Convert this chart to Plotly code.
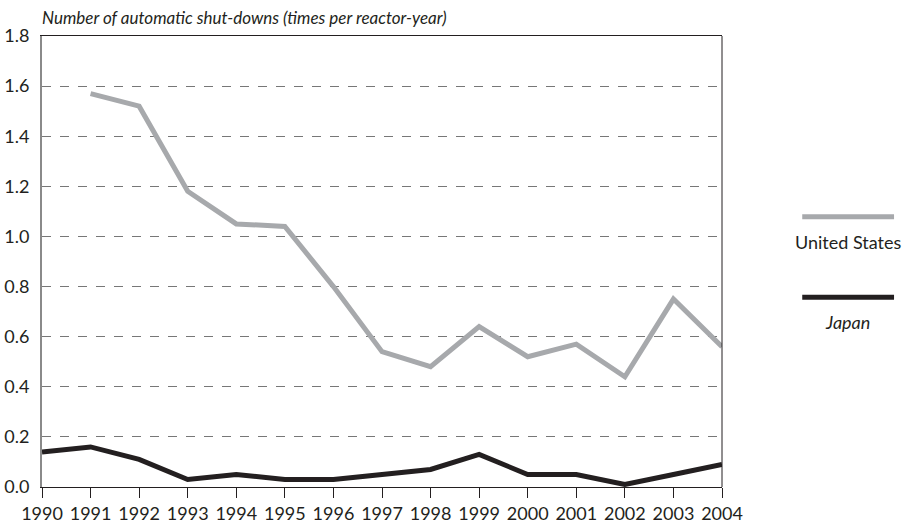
import plotly.graph_objects as go

years = list(range(1990, 2005))
us_years = list(range(1991, 2005))
us_rate = [1.57, 1.52, 1.18, 1.05, 1.04, 0.80, 0.54, 0.48, 0.64, 0.52, 0.57, 0.44, 0.75, 0.56]
japan_rate = [0.14, 0.16, 0.11, 0.03, 0.05, 0.03, 0.03, 0.05, 0.07, 0.13, 0.05, 0.05, 0.01, 0.05, 0.09]
y_ticks = [0.0, 0.2, 0.4, 0.6, 0.8, 1.0, 1.2, 1.4, 1.6, 1.8]

US_COLOR = "#a7a9ac"
JP_COLOR = "#231f20"
FONT = "Lato, Open Sans, sans-serif"

fig = go.Figure()
fig.add_trace(go.Scatter(x=us_years, y=us_rate, mode="lines", name="United States",
                         line=dict(color=US_COLOR, width=5), showlegend=False))
fig.add_trace(go.Scatter(x=years, y=japan_rate, mode="lines", name="Japan",
                         line=dict(color=JP_COLOR, width=5), showlegend=False))

fig.update_layout(
    width=918, height=528,
    margin=dict(l=42, r=196, t=36, b=41),
    paper_bgcolor="white", plot_bgcolor="white",
    font=dict(family=FONT, color="#231f20", size=17),
    xaxis=dict(range=[1990, 2004], tickvals=years, ticktext=[str(y) for y in years],
               showgrid=False, zeroline=False, showline=True, linecolor="#231f20",
               linewidth=1, mirror=True, ticks="outside", ticklen=10, tickcolor="#231f20",
               tickfont=dict(size=18), ticklabelstandoff=0, automargin=False,
               fixedrange=True),
    yaxis=dict(range=[0, 1.8], tickvals=y_ticks, ticktext=[f"{v:.1f}" for v in y_ticks],
               showgrid=True, gridcolor="#777777", griddash="dash", gridwidth=1,
               zeroline=False, showline=True, linecolor="#8a8a8a", linewidth=2,
               ticks="", tickfont=dict(size=18), ticklabelstandoff=7, automargin=False,
               fixedrange=True),
)

# right border of the plot frame
fig.add_shape(type="line", xref="paper", yref="paper", x0=1, x1=1, y0=0, y1=1,
              line=dict(color="#231f20", width=1))

# axis title above the plot
fig.add_annotation(text="<i>Number of automatic shut-downs (times per reactor-year)</i>",
                   xref="paper", yref="paper", x=0, y=1, xanchor="left", yanchor="bottom",
                   xshift=-2, yshift=6, showarrow=False, font=dict(size=17))

# legend: line sample above each label
legend_items = [("United States", US_COLOR, 0.599, ""), ("Japan", JP_COLOR, 0.421, "i")]
for label, color, ypos, style in legend_items:
    fig.add_shape(type="line", xref="paper", yref="paper", x0=1.118, x1=1.253,
                  y0=ypos, y1=ypos, line=dict(color=color, width=5))
    text = f"<i>{label}</i>" if style == "i" else label
    fig.add_annotation(text=text, xref="paper", yref="paper", x=1.185, y=ypos,
                       xanchor="center", yanchor="top", yshift=-12, showarrow=False,
                       font=dict(size=18))

fig.write_html("out.html")
